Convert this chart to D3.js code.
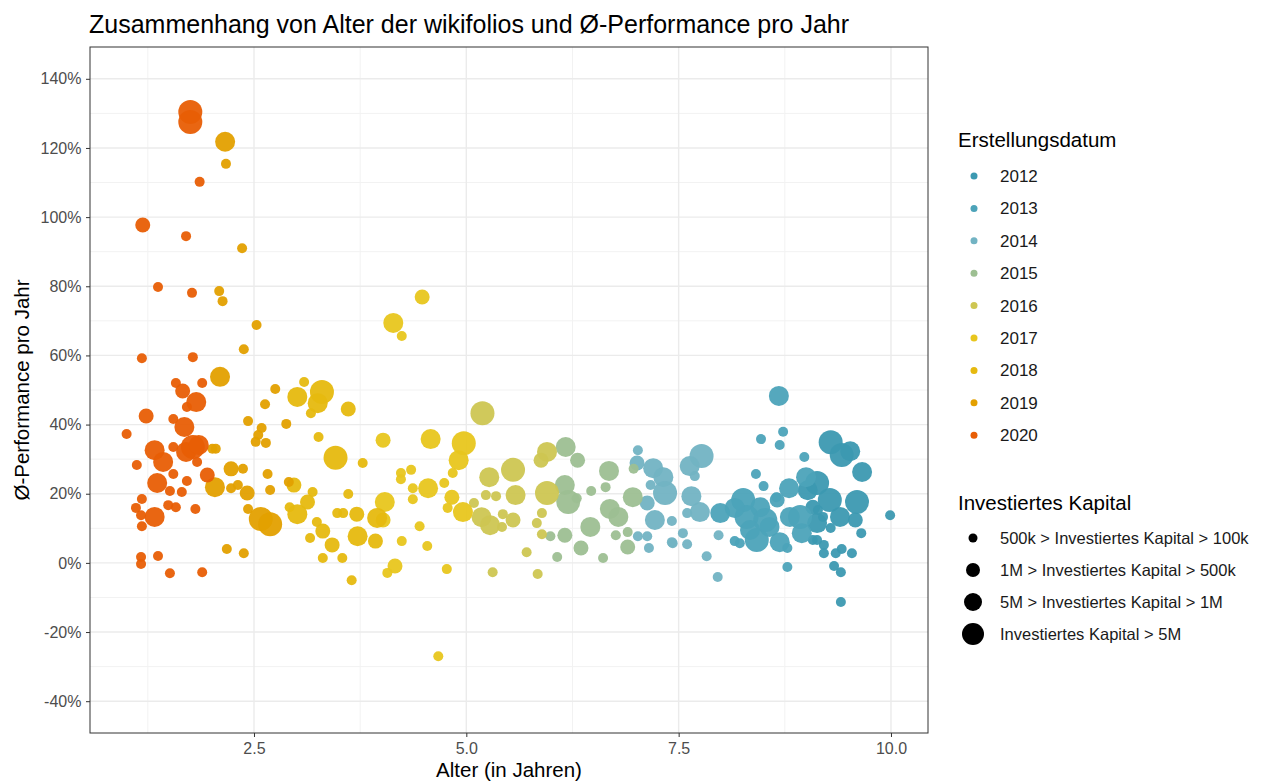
<!DOCTYPE html>
<html><head><meta charset="utf-8">
<script src="https://cdn.jsdelivr.net/npm/d3@7"></script>
<style>
body{margin:0;background:#fff;font-family:"Liberation Sans",Arial,sans-serif;}
</style></head><body>
<svg id="c" width="1261" height="781"></svg>
<script>
// [Alter in Jahren, Ø-Performance %, Kapitalklasse 0..3]
const d2020 = [[1.75,130.4,3],[1.75,127.5,3],[1.86,110.2,0],[1.19,97.7,1],[1.70,94.5,0],[1.37,79.8,0],[1.77,78.1,0],[1.18,59.2,0],[1.78,59.5,0],[1.58,52.0,0],[1.89,52.0,0],[1.66,49.7,1],[1.82,46.5,2],[1.71,45.1,0],[1.23,42.5,1],[1.55,41.6,0],[1.68,39.3,2],[1.00,37.3,0],[1.33,32.6,2],[1.43,29.2,2],[1.55,33.5,0],[1.78,33.5,3],[1.70,32.1,2],[1.85,34.1,2],[1.83,29.2,0],[1.12,28.3,0],[1.55,25.7,0],[1.36,23.1,2],[1.95,25.4,1],[1.71,23.7,0],[1.51,20.8,0],[1.65,20.5,0],[1.18,18.5,0],[1.11,15.9,0],[1.17,13.8,0],[1.33,13.3,2],[1.18,10.6,0],[1.49,16.7,0],[1.58,16.1,0],[1.81,15.6,0],[1.17,1.7,0],[1.17,-0.3,0],[1.37,2.0,0],[1.51,-3.0,0],[1.89,-2.7,0]];
const d2019 = [[2.16,121.8,2],[2.17,115.4,0],[2.36,91.0,0],[2.09,78.6,0],[2.13,75.7,0],[2.53,68.8,0],[2.38,61.8,0],[2.10,53.8,2],[2.75,50.3,0],[2.63,45.9,0],[2.43,41.0,0],[2.59,39.0,0],[2.55,37.0,0],[2.52,35.0,0],[2.64,34.7,0],[2.01,33.0,0],[2.05,33.0,0],[2.23,27.2,1],[2.37,27.2,0],[2.04,21.9,2],[2.23,21.6,0],[2.31,22.5,0],[2.42,20.2,1],[2.66,25.7,0],[2.69,21.1,0],[2.43,15.6,0],[2.58,12.7,3],[2.69,11.2,3],[2.18,4.0,0],[2.38,2.8,0],[2.91,23.4,0],[2.88,40.2,0]];
const d2018 = [[3.09,52.3,0],[3.01,48.0,2],[3.30,49.4,3],[3.25,46.2,2],[3.17,43.3,0],[3.61,44.5,1],[3.26,36.4,0],[3.46,30.4,3],[3.78,28.9,0],[2.97,22.5,1],[3.19,20.5,0],[3.13,17.6,1],[3.61,19.9,0],[2.92,16.1,0],[3.01,14.1,2],[3.48,14.4,0],[3.55,14.4,0],[3.71,14.1,1],[3.24,11.8,0],[3.31,9.2,1],[3.16,7.2,0],[3.42,5.2,1],[3.31,1.4,0],[3.72,7.7,2],[3.54,1.4,0],[3.93,6.3,1],[3.65,-5.0,0],[3.95,13.0,2]];
const d2017 = [[4.48,76.9,1],[4.14,69.4,2],[4.24,65.6,0],[4.02,35.5,1],[4.58,35.8,2],[4.97,34.6,3],[4.91,29.7,2],[4.84,26.0,0],[4.23,26.0,0],[4.23,24.2,0],[4.35,26.9,0],[4.37,21.6,0],[4.55,21.6,2],[4.74,23.1,0],[4.37,18.4,0],[4.83,19.0,1],[4.78,15.9,0],[4.96,14.7,2],[4.04,17.6,2],[4.02,12.4,1],[4.45,10.6,0],[4.24,6.3,0],[4.54,4.9,0],[4.16,-0.9,1],[4.07,-2.9,0],[4.77,-1.8,0],[4.67,-27.0,0]];
const d2016 = [[5.19,43.3,3],[5.09,17.3,0],[5.18,13.2,2],[5.28,10.9,2],[5.42,10.4,0],[5.23,19.6,0],[5.35,19.3,0],[5.27,24.8,2],[5.55,26.9,3],[5.58,19.6,2],[5.43,14.1,0],[5.55,12.4,1],[5.31,-2.7,0],[5.71,3.1,0],[5.84,-3.2,0],[5.95,32.1,2],[5.88,29.7,1],[5.95,20.2,3],[5.89,14.4,0],[5.83,11.5,0],[5.89,8.3,0]];
const d2015 = [[6.17,33.5,2],[6.31,29.7,1],[6.16,22.5,2],[6.20,17.6,3],[6.30,18.7,0],[6.47,20.8,0],[5.99,7.7,0],[6.16,8.0,1],[6.07,1.7,0],[6.35,4.3,1],[6.46,10.4,2],[6.68,26.6,2],[6.64,21.9,0],[6.69,15.6,2],[6.79,13.3,2],[6.61,1.4,0],[6.76,8.0,0],[6.96,19.0,2],[6.90,4.6,1],[6.90,8.9,0],[6.97,27.2,0]];
const d2014 = [[7.02,32.6,0],[7.01,28.9,1],[7.20,27.4,2],[7.32,24.8,2],[7.34,20.2,3],[7.17,22.5,0],[7.13,17.3,1],[7.22,12.4,2],[7.42,12.1,0],[7.02,7.7,0],[7.13,7.7,0],[7.15,4.3,0],[7.43,5.7,0],[7.77,30.9,3],[7.63,28.0,2],[7.69,25.1,0],[7.75,14.7,2],[7.65,19.3,2],[7.60,14.4,0],[7.55,8.6,0],[7.60,5.4,0],[7.97,8.0,0],[7.83,1.9,0],[7.96,-4.1,0],[7.42,6.0,0]];
const d2013 = [[8.68,48.3,2],[8.73,37.9,0],[8.47,35.8,0],[8.69,34.1,0],[8.98,30.6,0],[8.41,25.7,0],[8.50,22.2,0],[8.80,21.6,2],[9.00,24.8,2],[8.26,18.2,3],[8.46,16.1,2],[8.30,13.3,3],[8.42,6.6,3],[8.57,10.4,2],[8.69,6.0,2],[8.66,18.2,1],[8.81,13.3,2],[8.93,13.3,3],[8.95,8.6,2],[8.78,4.3,0],[8.16,6.3,0],[8.22,5.7,0],[7.99,14.4,2],[8.78,-1.2,0],[8.65,19.0,0],[8.16,15.9,2],[8.52,12.4,3],[8.34,9.5,2]];
const d2012 = [[9.29,34.9,3],[9.42,31.2,3],[9.52,32.3,2],[9.66,26.3,2],[9.13,23.1,3],[9.28,18.2,3],[9.60,17.6,3],[9.99,13.8,0],[9.58,12.4,1],[9.65,8.6,0],[9.54,2.8,0],[9.41,-2.7,0],[9.33,-0.9,0],[9.41,-11.3,0],[9.42,4.0,0],[9.35,2.8,0],[9.21,5.2,0],[9.21,2.8,0],[9.08,6.6,0],[9.13,6.6,0],[9.29,10.1,0],[9.13,11.5,2],[9.08,16.1,1],[9.14,15.3,0],[9.20,13.3,0],[9.02,21.0,2],[9.40,13.3,2]];

const years = ["2012","2013","2014","2015","2016","2017","2018","2019","2020"];
const yearColors = ["#3c99b1","#4ca3b9","#72b3c3","#9dbf92","#cec652","#e8c61e","#e6b90f","#e3a000","#e85e05"];
const sizeLabels = ["500k > Investiertes Kapital > 100k","1M > Investiertes Kapital > 500k","5M > Investiertes Kapital > 1M","Investiertes Kapital > 5M"];
const sizeRadii = [5, 7.5, 10, 12];
const yTicks = [-40,-20,0,20,40,60,80,100,120,140];
const xTicks = [2.5,5.0,7.5,10.0];

const byYear = {"2012":d2012,"2013":d2013,"2014":d2014,"2015":d2015,"2016":d2016,"2017":d2017,"2018":d2018,"2019":d2019,"2020":d2020};
const pts = [];
years.forEach(y => byYear[y].forEach(p => pts.push({year:y, age:p[0], perf:p[1], size:p[2]})));

const svg = d3.select("#c");
const L=90, R=928, T=47, B=733;
const x = d3.scaleLinear().domain([0.569,10.436]).range([L,R]);
const y = d3.scaleLinear().domain([-49.2,149.2]).range([B,T]);
const color = d3.scaleOrdinal().domain(years).range(yearColors);
const rad = d3.scaleOrdinal().domain([0,1,2,3]).range(sizeRadii);

// grid
const g = svg.append("g");
const yMinor = d3.range(-30,150,20);
const xMinor = [1.25,3.75,6.25,8.75];
g.selectAll(".ym").data(yMinor).join("line").attr("x1",L).attr("x2",R).attr("y1",d=>y(d)).attr("y2",d=>y(d)).attr("stroke","#f2f2f2").attr("stroke-width",1);
g.selectAll(".xm").data(xMinor).join("line").attr("y1",T).attr("y2",B).attr("x1",d=>x(d)).attr("x2",d=>x(d)).attr("stroke","#f2f2f2").attr("stroke-width",1);
g.selectAll(".yM").data(yTicks).join("line").attr("x1",L).attr("x2",R).attr("y1",d=>y(d)).attr("y2",d=>y(d)).attr("stroke","#ebebeb").attr("stroke-width",1.4);
g.selectAll(".xM").data(xTicks).join("line").attr("y1",T).attr("y2",B).attr("x1",d=>x(d)).attr("x2",d=>x(d)).attr("stroke","#ebebeb").attr("stroke-width",1.4);

// points
svg.append("g").selectAll("circle").data(pts).join("circle")
  .attr("cx",d=>x(d.age)).attr("cy",d=>y(d.perf)).attr("r",d=>rad(d.size))
  .attr("fill",d=>color(d.year)).attr("fill-opacity",0.95);

// border
svg.append("rect").attr("x",L).attr("y",T).attr("width",R-L).attr("height",B-T).attr("fill","none").attr("stroke","#333").attr("stroke-width",1);

// axes
const ax = svg.append("g").attr("transform",`translate(0,${B})`).call(d3.axisBottom(x).tickValues(xTicks).tickFormat(d3.format(".1f")).tickSize(4).tickSizeOuter(0));
const ay = svg.append("g").attr("transform",`translate(${L},0)`).call(d3.axisLeft(y).tickValues(yTicks).tickFormat(d=>d+"%").tickSize(4).tickSizeOuter(0));
[ax,ay].forEach(a=>{a.select(".domain").remove();a.selectAll("line").attr("stroke","#333");a.selectAll("text").attr("fill","#4d4d4d").style("font-size","16px").style("font-family","Liberation Sans, Arial, sans-serif");});
ax.selectAll("text").attr("dy","0.9em");
ay.selectAll("text").attr("dx","-0.1em");

// titles
svg.append("text").attr("x",89).attr("y",33).text("Zusammenhang von Alter der wikifolios und Ø-Performance pro Jahr").style("font-size","25px").attr("fill","#000");
svg.append("text").attr("x",(L+R)/2).attr("y",777).attr("text-anchor","middle").text("Alter (in Jahren)").style("font-size","20.5px");
svg.append("text").attr("transform",`translate(29,${(T+B)/2}) rotate(-90)`).attr("text-anchor","middle").text("Ø-Performance pro Jahr").style("font-size","20.5px");

// legend colour
const lg = svg.append("g");
lg.append("text").attr("x",958).attr("y",147).text("Erstellungsdatum").style("font-size","20.5px");
years.forEach((yr,i)=>{
  const cy = 176 + i*32.4;
  lg.append("circle").attr("cx",974).attr("cy",cy).attr("r",3.5).attr("fill",color(yr));
  lg.append("text").attr("x",1000).attr("y",cy+6).text(yr).style("font-size","17px").attr("fill","#1a1a1a");
});
lg.append("text").attr("x",958).attr("y",510).text("Investiertes Kapital").style("font-size","20.5px");
sizeLabels.forEach((s,i)=>{
  const cy = 538 + i*32;
  lg.append("circle").attr("cx",973).attr("cy",cy).attr("r",[4.5,7,9,11][i]).attr("fill","#000");
  lg.append("text").attr("x",1000).attr("y",cy+5.5).text(s).style("font-size","16.5px").attr("fill","#1a1a1a");
});
</script></body></html>
